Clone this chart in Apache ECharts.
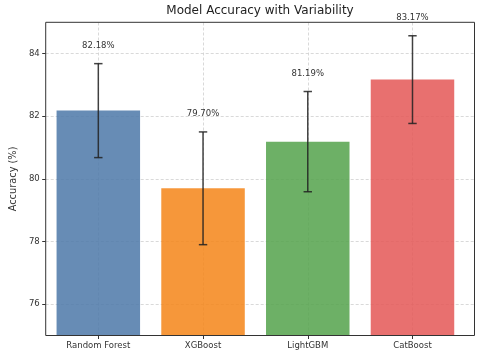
<!DOCTYPE html>
<html>
<head>
<meta charset="utf-8">
<script src="https://cdn.jsdelivr.net/npm/echarts@6/dist/echarts.min.js"></script>
<style>html,body{margin:0;padding:0;background:#fff;}#c{width:480px;height:353px;}</style>
</head>
<body>
<div id="c"></div>
<script>
const categories = ['Random Forest', 'XGBoost', 'LightGBM', 'CatBoost'];
const accuracy = [82.18, 79.70, 81.19, 83.17];
const errors = [1.5, 1.8, 1.6, 1.4];
const valueLabels = ['82.18%', '79.70%', '81.19%', '83.17%'];
const yTicks = [76, 78, 80, 82, 84];
const barColors = ['#4C78A8', '#F58518', '#54A24B', '#E45756'];

const FONT = 'DejaVu Sans';
const chart = echarts.init(document.getElementById('c'));

const gridLineStyle = { color: '#cfcfcf', type: [3, 2], width: 0.8 };

chart.setOption({
  animation: false,
  backgroundColor: '#fff',
  title: {
    text: 'Model Accuracy with Variability',
    left: 255, textAlign: 'center', top: 0,
    textStyle: { fontFamily: FONT, fontSize: 12, fontWeight: 'normal', color: '#222' }
  },
  grid: [
    { left: 36, right: 5.5, top: 22.3, bottom: 17.5, show: true, borderColor: '#333', borderWidth: 1, backgroundColor: 'transparent', z: 5 },
    { left: 45.95, right: 15.15, top: 22.3, bottom: 17.5 }
  ],
  xAxis: [
    { gridIndex: 0, type: 'value', min: 0, max: 1, show: false },
    {
      gridIndex: 1, type: 'category', data: categories,
      axisLine: { show: false },
      axisTick: { show: true, alignWithLabel: true, length: 3.5, lineStyle: { color: '#333' } },
      axisLabel: { fontFamily: FONT, fontSize: 8.5, color: '#333', margin: 6 },
      splitLine: { show: false }
    }
  ],
  yAxis: [
    {
      gridIndex: 0, type: 'value', min: 75, max: 85,
      name: 'Accuracy (%)', nameLocation: 'middle', nameGap: 25,
      nameTextStyle: { fontFamily: FONT, fontSize: 9.8, color: '#333' },
      axisLine: { show: false },
      axisTick: { show: true, length: 3.5, customValues: yTicks, lineStyle: { color: '#333' } },
      axisLabel: { fontFamily: FONT, fontSize: 8.5, color: '#333', margin: 6, customValues: yTicks },
      splitLine: { show: false }
    },
    { gridIndex: 1, type: 'value', min: 75, max: 85, show: false, splitLine: { show: false } }
  ],
  series: [
    {
      type: 'custom', xAxisIndex: 0, yAxisIndex: 0, z: 1, data: [],
      renderItem: () => null,
      markLine: {
        z: 1, silent: true, symbol: 'none', label: { show: false },
        lineStyle: gridLineStyle,
        data: yTicks.map(v => ({ yAxis: v }))
      }
    },
    {
      type: 'custom', xAxisIndex: 1, yAxisIndex: 1, z: 1, data: [],
      renderItem: () => null,
      markLine: {
        z: 1, silent: true, symbol: 'none', label: { show: false },
        lineStyle: gridLineStyle,
        data: categories.map(c => ({ xAxis: c }))
      }
    },
    {
      type: 'bar', xAxisIndex: 1, yAxisIndex: 1, z: 2,
      barWidth: 83.5,
      data: accuracy.map((v, i) => ({ value: v, itemStyle: { color: barColors[i], opacity: 0.85 } }))
    },
    {
      type: 'custom', xAxisIndex: 1, yAxisIndex: 1, z: 3,
      data: categories.map((c, i) => [i, accuracy[i] - errors[i], accuracy[i] + errors[i]]),
      renderItem: (params, api) => {
        const i = api.value(0);
        const lo = api.coord([i, api.value(1)]);
        const hi = api.coord([i, api.value(2)]);
        const x = lo[0];
        const cap = 4.2;
        const st = { stroke: '#222', lineWidth: 1.5, opacity: 0.85 };
        return {
          type: 'group',
          children: [
            { type: 'line', shape: { x1: x, y1: lo[1], x2: x, y2: hi[1] }, style: st },
            { type: 'line', shape: { x1: x - cap, y1: lo[1], x2: x + cap, y2: lo[1] }, style: st },
            { type: 'line', shape: { x1: x - cap, y1: hi[1], x2: x + cap, y2: hi[1] }, style: st },
            { type: 'text', style: { text: valueLabels[params.dataIndex], x: x, y: hi[1] - 18, align: 'center', verticalAlign: 'middle', fontFamily: FONT, fontSize: 8.5, fill: '#333' } }
          ]
        };
      }
    }
  ]
});
</script>
</body>
</html>
